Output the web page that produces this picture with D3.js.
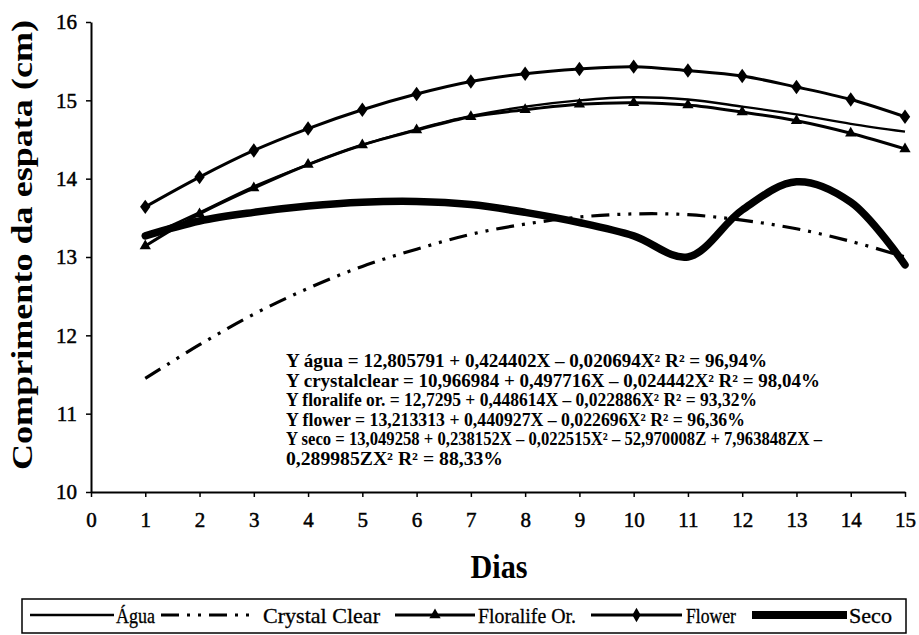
<!DOCTYPE html>
<html>
<head>
<meta charset="utf-8">
<script src="https://cdn.jsdelivr.net/npm/d3@7"></script>
<style>
body { margin: 0; background: #fff; }
svg { display: block; }
</style>
</head>
<body>
<div id="chart-area"></div>
<script>

// Data (days 1..15)
var days = [1, 2, 3, 4, 5, 6, 7, 8, 9, 10, 11, 12, 13, 14, 15];
var agua = [13.25, 13.57, 13.9, 14.18, 14.43, 14.63, 14.8, 14.92, 15.0, 15.04, 15.01, 14.92, 14.82, 14.7, 14.6];
var crystal = [11.45, 11.88, 12.27, 12.6, 12.88, 13.1, 13.29, 13.42, 13.51, 13.55, 13.54, 13.47, 13.36, 13.2, 13.0];
var floralife = [13.14, 13.55, 13.88, 14.18, 14.43, 14.62, 14.79, 14.88, 14.95, 14.97, 14.94, 14.85, 14.74, 14.58, 14.38];
var flower = [13.64, 14.02, 14.36, 14.64, 14.88, 15.08, 15.24, 15.34, 15.4, 15.43, 15.38, 15.31, 15.17, 15.01, 14.79];
var seco = [13.27, 13.46, 13.57, 13.65, 13.7, 13.71, 13.67, 13.57, 13.44, 13.27, 13.0, 13.6, 13.96, 13.7, 12.9];

var xTicks = [0, 1, 2, 3, 4, 5, 6, 7, 8, 9, 10, 11, 12, 13, 14, 15];
var yTicks = [10, 11, 12, 13, 14, 15, 16];
var seriesNames = ["Água", "Crystal Clear", "Floralife Or.", "Flower", "Seco"];

var equations = [
    "Y água = 12,805791 + 0,424402X \u2013 0,020694X\u00b2  R\u00b2 = 96,94%",
    "Y crystalclear = 10,966984 + 0,497716X \u2013 0,024442X\u00b2  R\u00b2 = 98,04%",
    "Y floralife or. = 12,7295 + 0,448614X \u2013 0,022886X\u00b2  R\u00b2 = 93,32%",
    "Y flower = 13,213313 + 0,440927X \u2013 0,022696X\u00b2  R\u00b2 = 96,36%",
    "Y seco = 13,049258 + 0,238152X \u2013 0,022515X\u00b2 \u2013 52,970008Z + 7,963848ZX \u2013",
    "0,289985ZX\u00b2  R\u00b2 = 88,33%"
];
var eqWidths = [481, 534, 471, 459, 536, 217];

var width = 919, height = 635;
var serif = "Liberation Serif";

var svg = d3.select("#chart-area").append("svg")
    .attr("width", width)
    .attr("height", height);

svg.append("rect")
    .attr("width", width)
    .attr("height", height)
    .attr("fill", "#fff");

// Scales
var x = d3.scaleLinear().domain([0, 15]).range([91, 905]);
var y = d3.scaleLinear().domain([10, 16]).range([492, 22]);

// Axes
var xAxis = d3.axisBottom(x)
    .tickValues(xTicks)
    .tickFormat(d3.format("d"))
    .tickSize(5)
    .tickSizeOuter(0)
    .tickPadding(15);

var yAxis = d3.axisLeft(y)
    .tickValues(yTicks)
    .tickFormat(d3.format("d"))
    .tickSize(5)
    .tickSizeOuter(0)
    .tickPadding(9);

var xAxisGroup = svg.append("g")
    .attr("class", "x-axis axis")
    .attr("transform", "translate(0," + y(10) + ")")
    .call(xAxis);

var yAxisGroup = svg.append("g")
    .attr("class", "y-axis axis")
    .attr("transform", "translate(" + x(0) + ",0)")
    .call(yAxis);

svg.selectAll(".axis").attr("font-family", null);
svg.selectAll(".axis path").attr("stroke", "#000").attr("stroke-width", 2);
svg.selectAll(".axis line").attr("stroke", "#000").attr("stroke-width", 1.5);
svg.selectAll(".axis text")
    .style("font-family", serif)
    .style("font-size", "21px")
    .attr("fill", "#000")
    .attr("stroke", "#000")
    .attr("stroke-width", 0.5);

// Axis titles
svg.append("text")
    .attr("transform", "translate(32,245) rotate(-90)")
    .attr("text-anchor", "middle")
    .style("font-family", serif)
    .style("font-size", "29px")
    .style("font-weight", "bold")
    .attr("textLength", 450)
    .attr("lengthAdjust", "spacingAndGlyphs")
    .text("Comprimento da espata (cm)");

svg.append("text")
    .attr("x", 499)
    .attr("y", 578)
    .attr("text-anchor", "middle")
    .style("font-family", serif)
    .style("font-size", "34px")
    .style("font-weight", "bold")
    .attr("textLength", 57)
    .attr("lengthAdjust", "spacingAndGlyphs")
    .text("Dias");

// Lines
var line = function(vals) {
    return d3.line()
        .x(function(d, i) { return x(days[i]); })
        .y(function(d) { return y(d); })
        .curve(d3.curveCatmullRom)(vals);
};

svg.append("path")
    .attr("d", line(crystal))
    .attr("fill", "none")
    .attr("stroke", "#000")
    .attr("stroke-width", 3.2)
    .attr("stroke-dasharray", "18,8,3,8,3,8");

svg.append("path")
    .attr("d", line(agua))
    .attr("fill", "none")
    .attr("stroke", "#000")
    .attr("stroke-width", 2.4);

svg.append("path")
    .attr("d", line(floralife))
    .attr("fill", "none")
    .attr("stroke", "#000")
    .attr("stroke-width", 3);

svg.append("path")
    .attr("d", line(flower))
    .attr("fill", "none")
    .attr("stroke", "#000")
    .attr("stroke-width", 3);

svg.append("path")
    .attr("d", line(seco))
    .attr("fill", "none")
    .attr("stroke", "#000")
    .attr("stroke-width", 7.5)
    .attr("stroke-linecap", "round");

// Markers
var tri = d3.symbol().type(d3.symbolTriangle).size(55);
var dia = d3.symbol().type(d3.symbolDiamond).size(60);

svg.selectAll(".tri")
    .data(floralife)
    .enter()
    .append("path")
    .attr("class", "tri")
    .attr("d", tri)
    .attr("transform", function(d, i) { return "translate(" + x(days[i]) + "," + y(d) + ")"; })
    .attr("fill", "#000");

svg.selectAll(".dia")
    .data(flower)
    .enter()
    .append("path")
    .attr("class", "dia")
    .attr("d", dia)
    .attr("transform", function(d, i) { return "translate(" + x(days[i]) + "," + y(d) + ") scale(1.25,1)"; })
    .attr("fill", "#000");

// Equations
svg.selectAll(".eq")
    .data(equations)
    .enter()
    .append("text")
    .attr("class", "eq")
    .attr("x", 286)
    .attr("y", function(d, i) { return 367 + i * 19.5; })
    .attr("textLength", function(d, i) { return eqWidths[i]; })
    .attr("lengthAdjust", "spacingAndGlyphs")
    .style("font-family", serif)
    .style("font-size", "18.5px")
    .style("font-weight", "bold")
    .text(function(d) { return d; });

// Legend
var legend = svg.append("g").attr("class", "legend");

legend.append("rect")
    .attr("x", 22)
    .attr("y", 599)
    .attr("width", 884)
    .attr("height", 34)
    .attr("fill", "none")
    .attr("stroke", "#000")
    .attr("stroke-width", 1.5);

var ly = 615;
var legItems = [
    {x1: 30, x2: 114, tx: 116, tw: 39, w: 2.4, dash: null, mark: null},
    {x1: 161, x2: 252, tx: 263, tw: 117, w: 3.2, dash: "18,8,3,8,3,8", mark: null},
    {x1: 395, x2: 475, tx: 478, tw: 98, w: 3, dash: null, mark: tri},
    {x1: 591, x2: 682, tx: 686, tw: 50, w: 3, dash: null, mark: dia},
    {x1: 752, x2: 847, tx: 849, tw: 43, w: 8, dash: null, mark: null}
];

legItems.forEach(function(it, i) {
    legend.append("line")
        .attr("x1", it.x1)
        .attr("x2", it.x2)
        .attr("y1", ly)
        .attr("y2", ly)
        .attr("stroke", "#000")
        .attr("stroke-width", it.w)
        .attr("stroke-dasharray", it.dash);
    if (it.mark) {
        legend.append("path")
            .attr("d", it.mark)
            .attr("transform", "translate(" + (it.x1 + it.x2) / 2 + "," + ly + ")")
            .attr("fill", "#000");
    }
    legend.append("text")
        .attr("x", it.tx)
        .attr("y", 623)
        .attr("textLength", it.tw)
        .attr("lengthAdjust", "spacingAndGlyphs")
        .style("font-family", serif)
        .style("font-size", "21px")
        .attr("stroke", "#000")
        .attr("stroke-width", 0.3)
        .text(seriesNames[i]);
});

</script>
</body>
</html>
